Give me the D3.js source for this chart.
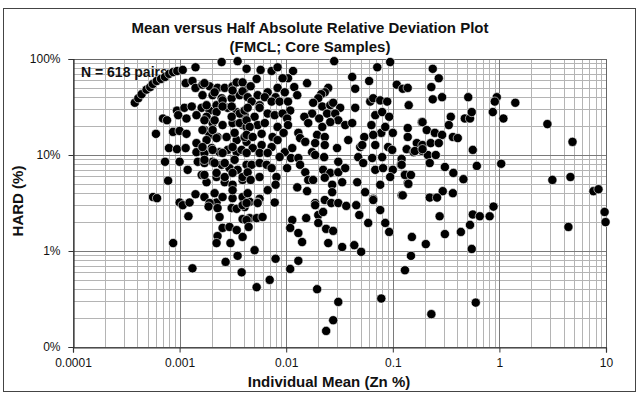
<!DOCTYPE html>
<html><head><meta charset="utf-8">
<script src="https://cdn.jsdelivr.net/npm/d3@7/dist/d3.min.js"></script>
<style>
html,body{margin:0;padding:0;background:#fff;}
svg{display:block;font-family:"Liberation Sans",Arial,sans-serif;}
</style></head>
<body>
<script>
// ---- data ----
const titleLines = ["Mean versus Half Absolute Relative Deviation Plot", "(FMCL; Core Samples)"];
const xTitle = "Individual Mean (Zn %)";
const yTitle = "HARD (%)";
const noteText = "N = 618 pairs";
const xTickValues = [0.0001, 0.001, 0.01, 0.1, 1, 10];
const xTickLabels = ["0.0001", "0.001", "0.01", "0.1", "1", "10"];
const yTickValues = [0.1, 1, 10, 100];
const yTickLabels = ["0%", "1%", "10%", "100%"];

// [individual mean Zn %, HARD %]
const arcPairs = [[0.00038,35],[0.00041,39],[0.00044,43],[0.00049,48],[0.00053,51],[0.00056,55],[0.00061,59],[0.00067,62],[0.00073,65],[0.00080,70],[0.00087,73],[0.00095,75],[0.00107,77],[0.00141,82]];
const leftPairs = [
[0.00114,56],[0.00132,59],[0.00141,50],[0.00164,54],[0.00191,52],[0.00227,50],[0.00265,50],[0.00314,52],[0.00343,57],[0.00407,49],[0.00204,42],[0.00248,39],[0.00308,39],[0.00366,42],[0.000945,29],[0.00111,31],[0.0013,32],[0.00161,31],[0.00191,29],[0.00222,33],[0.00282,31],[0.00343,28],[0.00407,26],[0.000699,24],[0.000762,23],[0.00097,26],[0.00116,24],[0.00144,26],[0.00179,25],[0.00204,21.5],[0.00253,20.5],[0.00314,21.5],[0.0039,20.5],[0.0006,16.6],[0.000867,17.4],[0.001,17.8],[0.00116,16.6],[0.00144,13.3],[0.00171,18.2],[0.00191,16.2],[0.00227,15.4],[0.00276,15.4],[0.00343,14.3],[0.00425,13.7],[0.000795,11.8],[0.000945,11.5],[0.00114,11.8],[0.00144,10.7],[0.00171,10.5],[0.002,11.8],[0.00237,10.7],[0.00282,11.3],[0.00343,10.7],[0.00073,8.5],[0.001,8.5],[0.00119,7.0],[0.00148,8.5],[0.00171,8.25],[0.00204,8.5],[0.00248,7.9],[0.00294,7.3],[0.0035,7.0],[0.00425,7.9],[0.00078,5.4],[0.00161,6.2],[0.00179,5.2],[0.00222,5.9],[0.00265,5.2],[0.00314,4.9],[0.0039,5.5],[0.000563,3.65],[0.000614,3.55],[0.001,3.2],[0.00141,3.9],[0.00171,3.65],[0.00222,3.2],[0.00314,3.55],[0.0039,3.65],
[0.00171,56],[0.00164,42],[0.00213,45],[0.00253,37],[0.00314,47],[0.0039,57],[0.0039,46],[0.00179,33],[0.00222,28],[0.00171,23],[0.00213,23],[0.00253,32],[0.00308,32],[0.00366,27],[0.00407,29],[0.00164,18.2],[0.00204,18.2],[0.00308,25],[0.00366,21.5],[0.00425,19.6],[0.00179,14.3],[0.00222,15],[0.00328,17],[0.00407,15.4],[0.00164,12.1],[0.00204,11.3],[0.00253,10.5],[0.00314,12.1],[0.00382,11.3],[0.00171,8.9],[0.00213,8.25],[0.00265,8.25],[0.00328,8.9],[0.00171,6.2],[0.00222,6.5],[0.00265,5.9],[0.00314,6.5],[0.0039,5.9],[0.00213,4.0],[0.00253,3.65],[0.00314,4.3],[0.00191,3.16],[0.00407,2.87],[0.00454,3.25],[0.00454,2.2]
];
const midPairs = [
[0.00248,93],[0.0035,95],[0.00425,79],[0.0282,95],[0.0945,93],[0.0715,82],[0.0416,65],[0.060,59],[0.0157,56],[0.109,54],[0.124,49],[0.138,50],[0.0444,49],
[0.00575,77],[0.0073,75],[0.0083,82],[0.0116,75],[0.00528,62],[0.0104,63],[0.00925,63],[0.00464,52],[0.0119,51],[0.0083,50],[0.0067,45],[0.0054,42],[0.0063,40],[0.0097,45],[0.0127,42],[0.00795,40],[0.0248,50],[0.023,45],[0.0213,43],[0.020,39],[0.00435,40],[0.00474,36],[0.00563,33],[0.0073,36],[0.00867,36],[0.0104,36],[0.0109,29],[0.00435,31],[0.00563,31],[0.0067,27],[0.0078,26],[0.00925,27],[0.0102,24],[0.00505,25],[0.00425,23],[0.0054,20.5],[0.0063,21.5],[0.0083,19.6],[0.0104,20.5],[0.0179,35],[0.0218,32],[0.0259,33],[0.0276,35],[0.0321,31],[0.0242,27],[0.0288,27],[0.0308,23],[0.0259,22],[0.0358,20.5],[0.0416,21.5],[0.0175,27],[0.0148,25],[0.0161,21.5],[0.0204,24],[0.0218,19.6],[0.0444,31],[0.0614,36],[0.0655,39],[0.0762,37],[0.0886,36],[0.141,33],[0.0685,26],[0.0795,28],[0.0925,25],[0.063,20.5],[0.078,17],[0.10,17],[0.138,19.1],[0.138,15.4],[0.054,15.4],[0.0655,16.2],[0.085,19.6],[0.187,22],[0.00454,19.6],[0.00425,16.2],[0.00485,15.4],[0.00588,16.6],[0.00745,15.4],[0.0083,14.3],[0.00945,17],[0.013,17],[0.0135,15],[0.0195,16.2],[0.023,15.4],[0.023,12.7],[0.0187,13.3],[0.0151,13.7],[0.0382,14.3],[0.0495,12.1],[0.0517,12.7],[0.0685,12.7],[0.0905,12.1],[0.0987,11.3],[0.135,11.5],[0.157,10.7],[0.168,13.3],[0.030,11.8],[0.0175,10.7],[0.0097,10.7],[0.0114,11.8],[0.0073,12.1],[0.00588,12.7],[0.00485,11.8],[0.00425,10.5],[0.00563,10.5],[0.0067,10.5],
[0.00867,9.54],[0.0111,9.3],[0.013,9.3],[0.0187,10],[0.0227,9.5],[0.0308,8.5],[0.0474,9.5],[0.0528,8.25],[0.0641,9.3],[0.0795,9.5],[0.0685,7.0],[0.081,7.3],[0.10,7.0],[0.119,7.9],[0.13,6.3],[0.138,5.1],[0.00474,7.9],[0.00563,8.25],[0.00655,7.9],[0.00435,6.6],[0.00563,5.9],[0.0073,7.3],[0.0081,5.9],[0.0102,7.3],[0.0135,7.9],[0.0151,6.6],[0.0222,7.0],[0.0259,6.5],[0.0308,6.6],[0.0358,7.3],[0.00464,5.5],[0.0067,4.3],[0.00795,4.9],[0.0127,4.6],[0.0161,5.5],[0.0179,5.5],[0.023,5.8],[0.027,4.9],[0.0335,5.2],[0.0464,5.2],[0.0762,4.9],[0.0945,5.9],[0.0157,4.2],[0.027,4.1],[0.055,4.1],[0.0655,3.5],[0.121,3.8],[0.023,3.4],[0.0187,3.16],[0.0265,3.16],[0.00435,4.0],[0.00563,3.5],[0.0054,3.2],[0.0078,3.2]
];
const rightPairs = [
[0.237,79],[0.27,63],[0.23,51],[0.237,38],[0.29,40],[0.51,40],[0.945,40],[0.905,36],[1.41,35],[0.19,22],[0.35,25],[0.335,20.5],[0.474,24],[0.53,24],[0.55,28],[0.867,28],[1.09,24],[2.82,21],[4.85,13.7],[0.208,18.2],[0.248,17],[0.29,16.2],[0.366,15.4],[0.407,15],[0.19,12.7],[0.227,13.3],[0.27,13.3],[0.19,11],[0.213,10],[0.253,10],[0.563,11.3],[0.222,8.25],[0.308,7.5],[0.614,7.7],[1.04,8.1],[0.37,6.5],[0.46,5.6],[3.14,5.5],[4.64,5.9],[0.294,4.2],[0.366,4.0],[0.222,3.6],[0.26,3.6],[7.62,4.2],[8.5,4.4],[0.161,11],[0.19,11.5],[0.121,9.1],[0.121,7.9],[0.13,6.2],[0.148,6.2],[0.14,5.0],[0.124,3.8],[0.275,2.3],[0.563,2.4],[0.655,2.3],[0.81,2.3],[0.88,2.9],[9.7,2.55],[9.9,2.0],[4.44,1.78]
];
const lowPairs = [
[0.0308,3.16],[0.0366,2.95],[0.0454,3.0],[0.0655,3.4],[0.0485,2.37],[0.0588,1.96],[0.0762,2.67],[0.085,1.96],[0.0925,1.58],[0.0335,1.1],[0.0435,1.15],[0.0505,0.98],[0.0308,0.295],[0.078,0.32],[0.151,1.4],[0.148,0.89],[0.13,0.63],[0.204,1.18],[0.23,0.22],[0.308,1.5],[0.435,1.58],[0.53,1.87],[0.55,1.05],[0.60,0.29],
[0.00107,3.0],[0.00121,2.3],[0.00124,3.2],[0.00187,2.9],[0.00227,2.8],[0.00308,2.8],[0.00343,2.75],[0.0039,3.0],[0.00425,3.16],[0.0054,3.16],[0.00237,2.26],[0.00253,1.74],[0.00294,1.78],[0.00343,1.65],[0.0039,2.15],[0.00425,2.1],[0.0039,1.4],[0.00444,1.78],[0.00528,2.2],[0.006,2.26],[0.00227,1.43],[0.00222,1.21],[0.003,1.21],[0.0035,0.89],[0.00505,1.02],[0.0027,0.77],[0.00087,1.21],[0.00132,0.66],[0.00382,0.6],[0.00528,0.42],[0.007,0.5],[0.00795,0.83],[0.0109,0.65],[0.013,0.79],[0.0114,2.1],[0.0109,1.74],[0.013,1.54],[0.0141,1.24],[0.0154,2.2],[0.0187,3.0],[0.020,2.37],[0.020,1.96],[0.0222,2.55],[0.0237,1.7],[0.0248,1.21],[0.0276,1.62],[0.0195,0.4],[0.0276,0.19],[0.0237,0.147]
];
const samples = [...leftPairs, ...midPairs, ...rightPairs, ...lowPairs, ...arcPairs];

// ---- layout ----
const W = 640, H = 395;
const plot = {left: 73, right: 606, top: 59, bottom: 347};

const svg = d3.select("body").append("svg").attr("width", W).attr("height", H);

svg.append("rect").attr("x", 3.5).attr("y", 8.5).attr("width", 632).attr("height", 383)
  .attr("fill", "#fff").attr("stroke", "#444").attr("stroke-width", 1);

const x = d3.scaleLog().domain([xTickValues[0], xTickValues[xTickValues.length - 1]]).range([plot.left, plot.right]);
const y = d3.scaleLog().domain([yTickValues[0], yTickValues[yTickValues.length - 1]]).range([plot.bottom, plot.top]);

// minor grid
const minorX = [], minorY = [];
for (let i = 0; i < xTickValues.length - 1; i++) for (let m = 2; m <= 9; m++) minorX.push(xTickValues[i] * m);
for (let i = 0; i < yTickValues.length - 1; i++) for (let m = 2; m <= 9; m++) minorY.push(yTickValues[i] * m);

const grid = svg.append("g");
grid.selectAll(".mx").data(minorX).join("line")
  .attr("x1", d => Math.round(x(d)) + 0.5).attr("x2", d => Math.round(x(d)) + 0.5)
  .attr("y1", plot.top).attr("y2", plot.bottom).attr("stroke", "#b4b4b4").attr("stroke-width", 1);
grid.selectAll(".my").data(minorY).join("line")
  .attr("y1", d => Math.round(y(d)) + 0.5).attr("y2", d => Math.round(y(d)) + 0.5)
  .attr("x1", plot.left).attr("x2", plot.right).attr("stroke", "#b4b4b4").attr("stroke-width", 1);
grid.selectAll(".Mx").data(xTickValues.slice(1, -1)).join("line")
  .attr("x1", d => Math.round(x(d)) + 0.5).attr("x2", d => Math.round(x(d)) + 0.5)
  .attr("y1", plot.top).attr("y2", plot.bottom).attr("stroke", "#7a7a7a").attr("stroke-width", 1);
grid.selectAll(".My").data(yTickValues.slice(1, -1)).join("line")
  .attr("y1", d => Math.round(y(d)) + 0.5).attr("y2", d => Math.round(y(d)) + 0.5)
  .attr("x1", plot.left).attr("x2", plot.right).attr("stroke", "#7a7a7a").attr("stroke-width", 1);

// plot border
svg.append("rect").attr("x", plot.left + 0.5).attr("y", plot.top + 0.5)
  .attr("width", plot.right - plot.left).attr("height", plot.bottom - plot.top)
  .attr("fill", "none").attr("stroke", "#666").attr("stroke-width", 1);

// axes
const xAxis = d3.axisBottom(x).tickValues(xTickValues).tickFormat((d, i) => xTickLabels[i]).tickSize(5).tickPadding(6);
const yAxis = d3.axisLeft(y).tickValues(yTickValues).tickFormat((d, i) => yTickLabels[i]).tickSize(5).tickPadding(8);
const gx = svg.append("g").attr("transform", `translate(0,${plot.bottom + 0.5})`).call(xAxis);
const gy = svg.append("g").attr("transform", `translate(${plot.left + 0.5},0)`).call(yAxis);
[gx, gy].forEach(g => {
  g.select(".domain").attr("stroke", "#333").attr("stroke-width", 1.2);
  g.selectAll(".tick line").attr("stroke", "#333");
  g.selectAll("text").attr("font-family", "'Liberation Sans',Arial,sans-serif").attr("font-size", 12).attr("fill", "#111");
});

// note text (under the points)
svg.append("text").attr("x", 81).attr("y", 77).attr("font-size", 14).attr("font-weight", "bold")
  .attr("fill", "#111").text(noteText);

// points
svg.append("g").selectAll("circle").data(samples).join("circle")
  .attr("cx", d => x(d[0])).attr("cy", d => y(d[1])).attr("r", 4.6)
  .attr("fill", "#000").attr("stroke", "#fff").attr("stroke-width", 0.6);

// titles
svg.append("g").selectAll("text").data(titleLines).join("text")
  .attr("x", 310).attr("y", (d, i) => 33 + i * 19).attr("text-anchor", "middle")
  .attr("font-size", 15).attr("font-weight", "bold").attr("fill", "#111").text(d => d);

svg.append("text").attr("x", 329).attr("y", 387).attr("text-anchor", "middle")
  .attr("font-size", 15).attr("font-weight", "bold").attr("fill", "#111").text(xTitle);

svg.append("text").attr("transform", "translate(23,201) rotate(-90)").attr("text-anchor", "middle")
  .attr("font-size", 15).attr("font-weight", "bold").attr("fill", "#111").text(yTitle);
</script>
</body></html>
